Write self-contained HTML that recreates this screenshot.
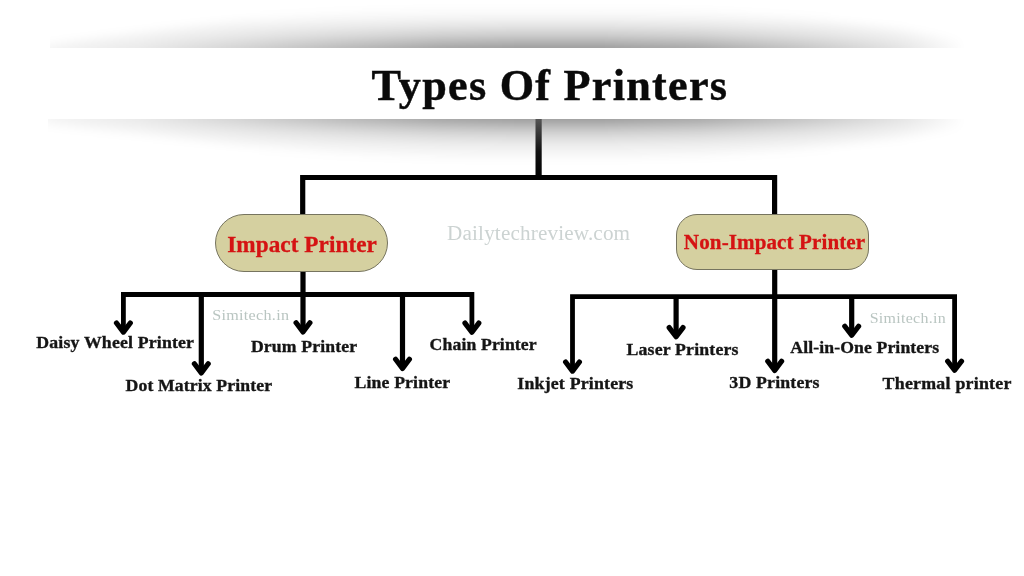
<!DOCTYPE html>
<html><head><meta charset="utf-8"><style>
html,body{margin:0;padding:0;background:#fff;}
body{width:1024px;height:576px;position:relative;overflow:hidden;font-family:"Liberation Serif",serif;}
.sh{position:absolute;}
.shw{position:absolute;overflow:hidden;}
#shTopW{left:50px;top:0px;width:920px;height:48px;-webkit-mask-image:linear-gradient(to right,rgba(0,0,0,0.1) 0.0%,rgba(0,0,0,0.12) 1.1%,rgba(0,0,0,0.22) 9.8%,rgba(0,0,0,0.45) 20.7%,rgba(0,0,0,0.7) 31.5%,rgba(0,0,0,0.92) 42.4%,rgba(0,0,0,1) 51.1%,rgba(0,0,0,1) 59.8%,rgba(0,0,0,0.88) 70.7%,rgba(0,0,0,0.6) 81.5%,rgba(0,0,0,0.28) 92.4%,rgba(0,0,0,0.0) 99.5%,rgba(0,0,0,0) 100.5%);mask-image:linear-gradient(to right,rgba(0,0,0,0.1) 0.0%,rgba(0,0,0,0.12) 1.1%,rgba(0,0,0,0.22) 9.8%,rgba(0,0,0,0.45) 20.7%,rgba(0,0,0,0.7) 31.5%,rgba(0,0,0,0.92) 42.4%,rgba(0,0,0,1) 51.1%,rgba(0,0,0,1) 59.8%,rgba(0,0,0,0.88) 70.7%,rgba(0,0,0,0.6) 81.5%,rgba(0,0,0,0.28) 92.4%,rgba(0,0,0,0.0) 99.5%,rgba(0,0,0,0) 100.5%);}
#shBotW{left:48px;top:119px;width:922px;height:60px;-webkit-mask-image:linear-gradient(to right,rgba(0,0,0,0.1) 0.2%,rgba(0,0,0,0.12) 1.3%,rgba(0,0,0,0.22) 10.0%,rgba(0,0,0,0.45) 20.8%,rgba(0,0,0,0.7) 31.7%,rgba(0,0,0,0.92) 42.5%,rgba(0,0,0,1) 51.2%,rgba(0,0,0,1) 59.9%,rgba(0,0,0,0.88) 70.7%,rgba(0,0,0,0.6) 81.6%,rgba(0,0,0,0.28) 92.4%,rgba(0,0,0,0.0) 99.5%,rgba(0,0,0,0) 100.5%);mask-image:linear-gradient(to right,rgba(0,0,0,0.1) 0.2%,rgba(0,0,0,0.12) 1.3%,rgba(0,0,0,0.22) 10.0%,rgba(0,0,0,0.45) 20.8%,rgba(0,0,0,0.7) 31.7%,rgba(0,0,0,0.92) 42.5%,rgba(0,0,0,1) 51.2%,rgba(0,0,0,1) 59.9%,rgba(0,0,0,0.88) 70.7%,rgba(0,0,0,0.6) 81.6%,rgba(0,0,0,0.28) 92.4%,rgba(0,0,0,0.0) 99.5%,rgba(0,0,0,0) 100.5%);}
.shb{position:absolute;filter:blur(5px);}
#shTopB{left:-50px;top:0;width:1024px;height:100px;}
#shBotB{left:-48px;top:-50px;width:1024px;height:160px;}
#shTop{position:absolute;left:0;top:0;width:1024px;height:100px;clip-path:polygon(0px 60px,50px 44px,140px 32px,240px 20px,340px 13px,440px 9px,600px 8px,700px 11px,800px 18px,900px 29px,970px 42px,1024px 60px,1024px 100px,0px 100px);
 background:linear-gradient(to bottom,rgba(0,0,0,0) 8px,rgba(0,0,0,0.05) 20px,rgba(0,0,0,0.14) 30px,rgba(0,0,0,0.25) 40px,rgba(0,0,0,0.4) 48px,rgba(0,0,0,0.4) 100px);}
#shBot{position:absolute;left:0;top:0;width:1024px;height:160px;clip-path:polygon(0px 38px,50px 56px,140px 65px,240px 76px,340px 84px,440px 89px,600px 90px,700px 87px,800px 80px,900px 69px,970px 57px,1024px 38px,1024px 0px,0px 0px);
 background:linear-gradient(to bottom,rgba(0,0,0,0.4) 0px,rgba(0,0,0,0.4) 50px,rgba(0,0,0,0.28) 56px,rgba(0,0,0,0.15) 66px,rgba(0,0,0,0.07) 76px,rgba(0,0,0,0.03) 86px,rgba(0,0,0,0) 92px);}
.pill{position:absolute;background:#d5d0a0;border:1.75px solid #76745f;box-sizing:border-box;}
#p1{left:215.4px;top:213.6px;width:172.4px;height:58.8px;border-radius:29px;}
#p2{left:675.8px;top:214px;width:193.1px;height:56.3px;border-radius:21px;}
svg{position:absolute;left:0;top:0;}
</style></head><body>
<div class="shw" id="shTopW"><div class="shb" id="shTopB"><div id="shTop"></div></div></div>
<div class="shw" id="shBotW"><div class="shb" id="shBotB"><div id="shBot"></div></div></div>
<svg width="1024" height="576" viewBox="0 0 1024 576" style="z-index:1">
<defs><linearGradient id="stem" x1="0" y1="0" x2="0" y2="1"><stop offset="0" stop-color="#555"/><stop offset="0.55" stop-color="#111"/><stop offset="1" stop-color="#000"/></linearGradient></defs>
<g fill="none" stroke="#000" stroke-width="5.2" stroke-linecap="butt" stroke-linejoin="miter">
<rect x="535.5" y="119" width="6.2" height="59" fill="url(#stem)" stroke="none"/>
<path d="M302.7 215 V177.5 H774.6 V216" />
<path d="M123.4 332.09999999999997 V294.5 H471.9 V332.2" stroke-width="4.8"/>
<path d="M303 271 V296" />
<path d="M201.3 294.5 V372.90" />
<path d="M303 294.5 V331.90" />
<path d="M402.5 294.5 V368.40" />
<path d="M116.50 323.00 L123.4 332.10 L130.30 323.00" stroke-linecap="round" stroke-linejoin="round"/>
<path d="M194.40 363.80 L201.3 372.90 L208.20 363.80" stroke-linecap="round" stroke-linejoin="round"/>
<path d="M296.10 322.80 L303 331.90 L309.90 322.80" stroke-linecap="round" stroke-linejoin="round"/>
<path d="M395.60 359.30 L402.5 368.40 L409.40 359.30" stroke-linecap="round" stroke-linejoin="round"/>
<path d="M465.00 323.10 L471.9 332.20 L478.80 323.10" stroke-linecap="round" stroke-linejoin="round"/>
<path d="M572.5 371.09999999999997 V296.6 H954.6 V370.29999999999995" stroke-width="4.8"/>
<path d="M774.7 269 V299" />
<path d="M676.1 296.6 V336.70" />
<path d="M774.7 296.6 V370.40" />
<path d="M851.7 296.6 V335.30" />
<path d="M565.60 362.00 L572.5 371.10 L579.40 362.00" stroke-linecap="round" stroke-linejoin="round"/>
<path d="M669.20 327.60 L676.1 336.70 L683.00 327.60" stroke-linecap="round" stroke-linejoin="round"/>
<path d="M767.80 361.30 L774.7 370.40 L781.60 361.30" stroke-linecap="round" stroke-linejoin="round"/>
<path d="M844.80 326.20 L851.7 335.30 L858.60 326.20" stroke-linecap="round" stroke-linejoin="round"/>
<path d="M947.70 361.20 L954.6 370.30 L961.50 361.20" stroke-linecap="round" stroke-linejoin="round"/>
</g>
</svg>
<div class="pill" id="p1" style="z-index:2"></div>
<div class="pill" id="p2" style="z-index:2"></div>
<svg width="1024" height="576" viewBox="0 0 1024 576" style="z-index:3;will-change:transform" font-family="Liberation Serif">
<text transform="matrix(0.9811 0 0 1 371.41 99.50)" font-size="45.07" font-weight="bold" letter-spacing="1.279" fill="#0a0a0a" stroke="#0a0a0a" stroke-width="0.45">Types Of Printers</text>
<text transform="matrix(1.0051 0 0 1 227.27 251.50)" font-size="23.10" font-weight="bold" letter-spacing="0.058" fill="#d51313" stroke="#d51313" stroke-width="0.3">Impact Printer</text>
<text transform="matrix(1.0081 0 0 1 683.87 249.20)" font-size="20.92" font-weight="bold" letter-spacing="0.086" fill="#d51313" stroke="#d51313" stroke-width="0.3">Non-Impact Printer</text>
<text transform="matrix(1.0155 0 0 1 447.07 240.00)" font-size="20.84" font-weight="normal" letter-spacing="0.155" fill="#ccd3d2">Dailytechreview.com</text>
<text transform="matrix(1.0384 0 0 1 212.29 320.00)" font-size="15.51" font-weight="normal" letter-spacing="0.280" fill="#b9c5c1">Simitech.in</text>
<text transform="matrix(1.0397 0 0 1 869.70 323.20)" font-size="15.34" font-weight="normal" letter-spacing="0.287" fill="#b9c5c1">Simitech.in</text>
<text transform="matrix(1.0188 0 0 1 36.32 348.30)" font-size="17.46" font-weight="bold" letter-spacing="0.162" fill="#151515" stroke="#151515" stroke-width="0.35">Daisy Wheel Printer</text>
<text transform="matrix(1.0137 0 0 1 125.52 391.20)" font-size="17.46" font-weight="bold" letter-spacing="0.116" fill="#151515" stroke="#151515" stroke-width="0.35">Dot Matrix Printer</text>
<text transform="matrix(1.0140 0 0 1 250.92 352.20)" font-size="17.46" font-weight="bold" letter-spacing="0.133" fill="#151515" stroke="#151515" stroke-width="0.35">Drum Printer</text>
<text transform="matrix(1.0153 0 0 1 354.62 388.00)" font-size="17.46" font-weight="bold" letter-spacing="0.131" fill="#151515" stroke="#151515" stroke-width="0.35">Line Printer</text>
<text transform="matrix(1.0137 0 0 1 429.57 349.50)" font-size="17.46" font-weight="bold" letter-spacing="0.119" fill="#151515" stroke="#151515" stroke-width="0.35">Chain Printer</text>
<text transform="matrix(1.0220 0 0 1 517.34 389.00)" font-size="17.46" font-weight="bold" letter-spacing="0.177" fill="#151515" stroke="#151515" stroke-width="0.35">Inkjet Printers</text>
<text transform="matrix(1.0205 0 0 1 626.42 354.70)" font-size="17.46" font-weight="bold" letter-spacing="0.173" fill="#151515" stroke="#151515" stroke-width="0.35">Laser Printers</text>
<text transform="matrix(1.0200 0 0 1 729.34 388.10)" font-size="17.46" font-weight="bold" letter-spacing="0.175" fill="#151515" stroke="#151515" stroke-width="0.35">3D Printers</text>
<text transform="matrix(1.0135 0 0 1 790.30 352.90)" font-size="17.46" font-weight="bold" letter-spacing="0.110" fill="#151515" stroke="#151515" stroke-width="0.35">All-in-One Printers</text>
<text transform="matrix(1.0247 0 0 1 882.62 388.70)" font-size="17.46" font-weight="bold" letter-spacing="0.222" fill="#151515" stroke="#151515" stroke-width="0.35">Thermal printer</text>
</svg>
</body></html>
